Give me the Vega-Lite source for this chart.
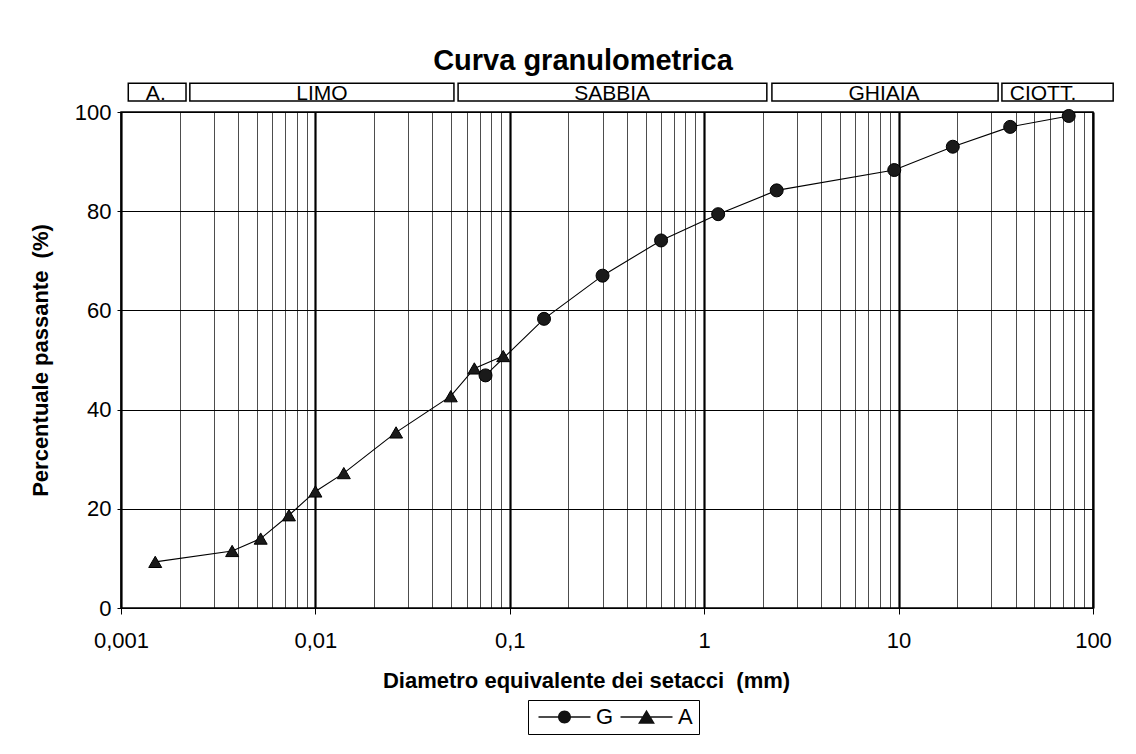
{
  "$schema": "https://vega.github.io/schema/vega-lite/v6.json",
  "width": 972,
  "height": 496,
  "autosize": {"type": "none"},
  "padding": {"left": 121, "top": 112, "right": 43, "bottom": 146},
  "background": "white",
  "title": {"text": "Curva granulometrica", "fontSize": 29, "font": "Liberation Sans", "fontWeight": "bold", "dx": -24, "offset": 6, "color": "black"},
  "config": {"view": {"stroke": "black", "strokeWidth": 1.5}, "font": "Liberation Sans"},
  "datasets": {
    "curve": [
      {"series": "A", "d": 0.0015, "p": 9.3},
      {"series": "A", "d": 0.00373, "p": 11.5},
      {"series": "A", "d": 0.00523, "p": 14.0},
      {"series": "A", "d": 0.00731, "p": 18.7},
      {"series": "A", "d": 0.0100, "p": 23.5},
      {"series": "A", "d": 0.0140, "p": 27.2},
      {"series": "A", "d": 0.026, "p": 35.4},
      {"series": "A", "d": 0.0497, "p": 42.7},
      {"series": "A", "d": 0.0657, "p": 48.3},
      {"series": "A", "d": 0.0925, "p": 50.8},
      {"series": "G", "d": 0.075, "p": 46.9},
      {"series": "G", "d": 0.15, "p": 58.3},
      {"series": "G", "d": 0.3, "p": 67.0},
      {"series": "G", "d": 0.6, "p": 74.1},
      {"series": "G", "d": 1.18, "p": 79.4},
      {"series": "G", "d": 2.36, "p": 84.2},
      {"series": "G", "d": 9.5, "p": 88.3},
      {"series": "G", "d": 19, "p": 93.0},
      {"series": "G", "d": 37.5, "p": 97.0},
      {"series": "G", "d": 75, "p": 99.2}
    ],
    "classes": [
      {"cl": "A.", "d1": 0.00109, "d2": 0.00216, "lx": 0.00151},
      {"cl": "LIMO", "d1": 0.00226, "d2": 0.0516, "lx": 0.0108},
      {"cl": "SABBIA", "d1": 0.0542, "d2": 2.10, "lx": 0.336},
      {"cl": "GHIAIA", "d1": 2.23, "d2": 32.5, "lx": 8.41},
      {"cl": "CIOTT.", "d1": 34.0, "d2": 127, "lx": 55.3}
    ]
  },
  "resolve": {"scale": {"shape": "independent"}, "legend": {"shape": "independent"}},
  "layer": [
    {
      "data": {"name": "curve"},
      "mark": {"type": "line", "color": "black", "strokeWidth": 1.1},
      "encoding": {
        "x": {
          "field": "d", "type": "quantitative",
          "scale": {"type": "log", "domain": [0.001, 100], "nice": false},
          "axis": {
            "values": [0.001,0.002,0.003,0.004,0.005,0.006,0.007,0.008,0.009,0.01,0.02,0.03,0.04,0.05,0.06,0.07,0.08,0.09,0.1,0.2,0.3,0.4,0.5,0.6,0.7,0.8,0.9,1,2,3,4,5,6,7,8,9,10,20,30,40,50,60,70,80,90,100],
            "grid": true, "gridColor": "black", "gridOpacity": 1,
            "gridWidth": {"condition": {"test": "abs(log(datum.value)/LN10 - round(log(datum.value)/LN10)) < 1e-6", "value": 2.2}, "value": 0.7},
            "domain": false,
            "tickColor": "black", "tickSize": 6, "tickWidth": 1,
            "tickOpacity": {"condition": {"test": "abs(log(datum.value)/LN10 - round(log(datum.value)/LN10)) < 1e-6", "value": 1}, "value": 0},
            "labelExpr": "(abs(log(datum.value)/LN10 - round(log(datum.value)/LN10)) < 1e-6) ? replace(format(datum.value, '.3~f'), '.', ',') : ''",
            "labelFontSize": 22, "labelColor": "black", "labelFlush": false, "labelOverlap": false, "labelBound": false, "labelPadding": 16,
            "title": "Diametro equivalente dei setacci \u00a0(mm)", "titleFontSize": 22, "titleFontWeight": "bold", "titleColor": "black", "titlePadding": 19, "titleX": 465
          }
        },
        "y": {
          "field": "p", "type": "quantitative",
          "scale": {"domain": [0, 100], "nice": false},
          "axis": {
            "values": [0, 20, 40, 60, 80, 100],
            "grid": true, "gridColor": "black", "gridWidth": 1.2, "gridOpacity": 1,
            "domain": false, "tickColor": "black", "tickSize": 4,
            "labelFontSize": 22, "labelColor": "black", "labelPadding": 6,
            "title": "Percentuale passante \u00a0(%)", "titleFontSize": 22, "titleFontWeight": "bold", "titleColor": "black", "titlePadding": 22
          }
        },
        "detail": {"field": "series"}
      }
    },
    {
      "data": {"name": "curve"},
      "mark": {"type": "point", "filled": true, "color": "#1a1a1a", "stroke": "black", "strokeWidth": 1, "opacity": 1, "size": 169},
      "encoding": {
        "x": {"field": "d", "type": "quantitative", "scale": {"type": "log", "domain": [0.001, 100], "nice": false}},
        "y": {"field": "p", "type": "quantitative", "scale": {"domain": [0, 100], "nice": false}},
        "shape": {
          "field": "series", "type": "nominal",
          "scale": {"domain": ["G", "A"], "range": ["circle", "triangle-up"]},
          "legend": null
        }
      }
    },
    {
      "data": {"name": "curve"},
      "mark": {"type": "point", "filled": true, "color": "#111111", "opacity": 0, "size": 169},
      "encoding": {
        "x": {"field": "d", "type": "quantitative", "scale": {"type": "log", "domain": [0.001, 100], "nice": false}},
        "y": {"field": "p", "type": "quantitative", "scale": {"domain": [0, 100], "nice": false}},
        "shape": {
          "field": "series", "type": "nominal",
          "scale": {"domain": ["G", "A"], "range": ["M-1,-0.1L7,-0.1L7,0.1L-1,0.1ZM4,0A1,1 0 1,1 2,0A1,1 0 1,1 4,0Z", "M-1,-0.1L7,-0.1L7,0.1L-1,0.1ZM3,-1.1L4.3,1.05L1.7,1.05Z"]},
          "legend": {
            "title": null, "orient": "none", "legendX": 407, "legendY": 588, "direction": "horizontal",
            "strokeColor": "black", "padding": 6, "columnPadding": 2,
            "labelFontSize": 22, "labelColor": "black", "labelFont": "Liberation Sans",
            "symbolSize": 169, "labelOffset": 40, "symbolOpacity": 1,
            "symbolFillColor": "#111111"
          }
        }
      }
    },
    {
      "data": {"name": "classes"},
      "mark": {"type": "rect", "fill": "white", "stroke": "black", "strokeWidth": 1.5},
      "encoding": {
        "x": {"field": "d1", "type": "quantitative", "scale": {"type": "log", "domain": [0.001, 100], "nice": false}},
        "x2": {"field": "d2"},
        "y": {"datum": 105.8, "type": "quantitative", "scale": {"domain": [0, 100], "nice": false}},
        "y2": {"datum": 102.2}
      }
    },
    {
      "data": {"name": "classes"},
      "mark": {"type": "text", "fontSize": 21, "baseline": "alphabetic", "align": "center", "color": "black", "font": "Liberation Sans"},
      "encoding": {
        "x": {"field": "lx", "type": "quantitative", "scale": {"type": "log", "domain": [0.001, 100], "nice": false}},
        "y": {"datum": 102.5, "type": "quantitative", "scale": {"domain": [0, 100], "nice": false}},
        "text": {"field": "cl"}
      }
    }
  ]
}
